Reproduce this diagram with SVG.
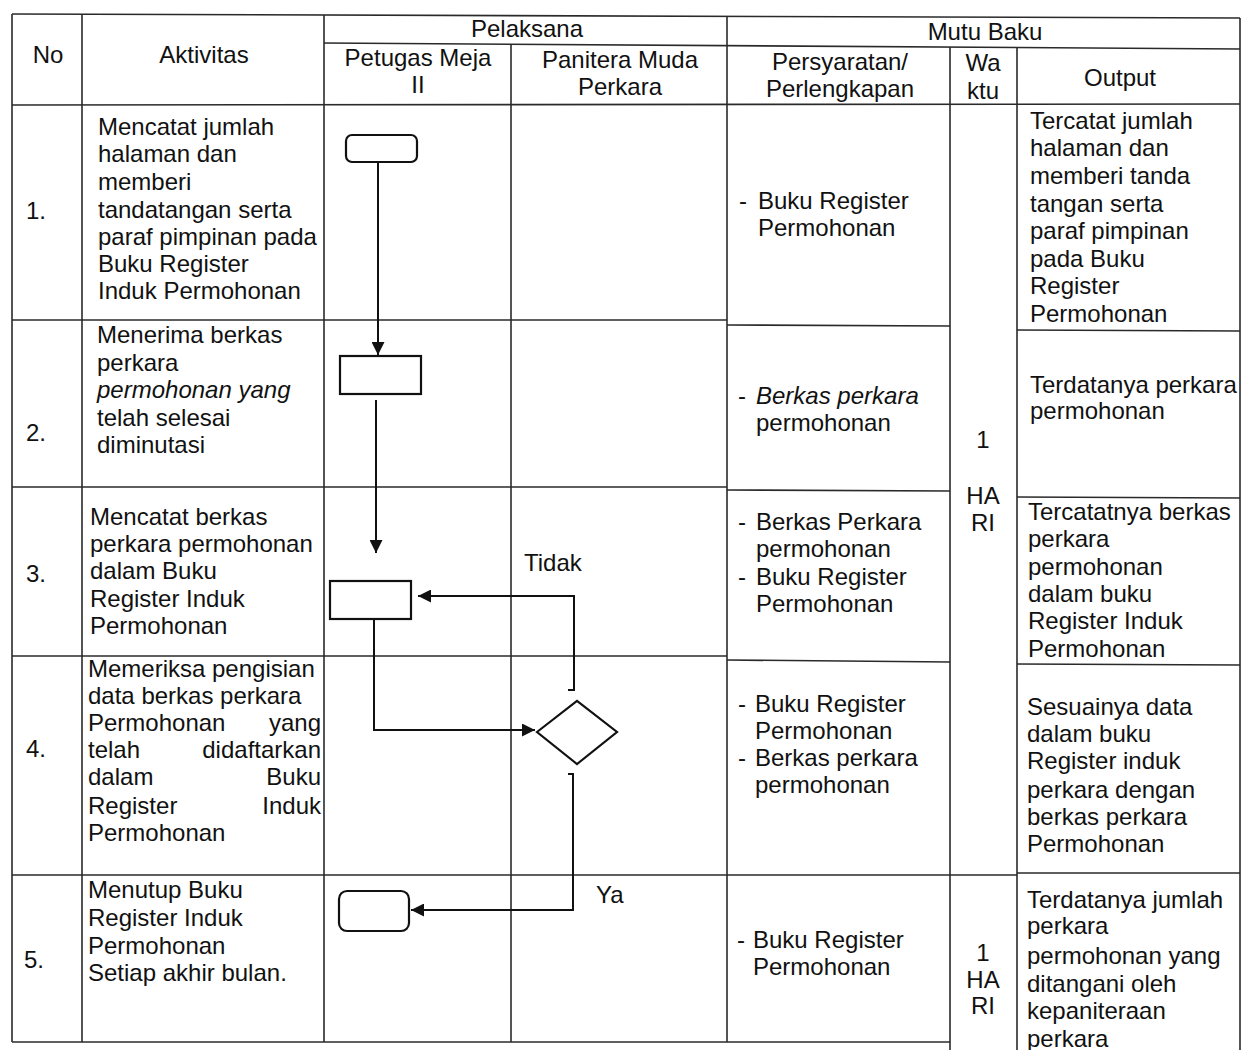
<svg xmlns="http://www.w3.org/2000/svg" width="1255" height="1050" viewBox="0 0 1255 1050">
<style>
text{font-family:"Liberation Sans",Arial,sans-serif;font-size:24px;fill:#111}
.c{text-anchor:middle}
.e{text-anchor:end}
.i{font-style:italic}
.grid line{stroke:#2a2a2a;stroke-width:1.6}
.shape{fill:#fff;stroke:#111;stroke-width:2.2}
.conn path{fill:none;stroke:#111;stroke-width:2}
</style>
<defs>
<marker id="ah" markerUnits="userSpaceOnUse" viewBox="0 0 12 12" refX="12" refY="6" markerWidth="13" markerHeight="13" orient="auto">
<path d="M0,0 L12,6 L0,12 z" fill="#111"/>
</marker>
</defs>
<rect width="1255" height="1050" fill="#fff"/>
<g class="grid">
<line x1="12" y1="14" x2="1240" y2="18"/>
<line x1="324" y1="43" x2="1240" y2="49"/>
<line x1="12" y1="105" x2="1240" y2="104"/>
<line x1="12" y1="14" x2="12" y2="1042"/>
<line x1="82" y1="14" x2="82" y2="1042"/>
<line x1="324" y1="15" x2="324" y2="1042"/>
<line x1="511" y1="44" x2="511" y2="1042"/>
<line x1="727" y1="16" x2="727" y2="1042"/>
<line x1="950" y1="47" x2="950" y2="1050"/>
<line x1="1017" y1="48" x2="1017" y2="1050"/>
<line x1="1240" y1="18" x2="1240" y2="1050"/>
<line x1="12" y1="320" x2="727" y2="320"/>
<line x1="12" y1="487" x2="727" y2="487"/>
<line x1="12" y1="656" x2="727" y2="656"/>
<line x1="12" y1="875" x2="727" y2="875"/>
<line x1="727" y1="325" x2="950" y2="326"/>
<line x1="727" y1="490" x2="950" y2="491"/>
<line x1="727" y1="660" x2="950" y2="662"/>
<line x1="727" y1="875" x2="1017" y2="875"/>
<line x1="1017" y1="330" x2="1240" y2="331"/>
<line x1="1017" y1="497" x2="1240" y2="498"/>
<line x1="1017" y1="664" x2="1240" y2="665"/>
<line x1="1017" y1="873" x2="1240" y2="873"/>
<line x1="12" y1="1042" x2="950" y2="1042"/>
</g>
<g id="header">
<text class="c" x="48" y="63">No</text>
<text class="c" x="204" y="63">Aktivitas</text>
<text class="c" x="527" y="37">Pelaksana</text>
<text class="c" x="418" y="66">Petugas Meja</text>
<text class="c" x="418" y="93">II</text>
<text class="c" x="620" y="68">Panitera Muda</text>
<text class="c" x="620" y="95">Perkara</text>
<text class="c" x="985" y="40">Mutu Baku</text>
<text class="c" x="840" y="70">Persyaratan/</text>
<text class="c" x="840" y="97">Perlengkapan</text>
<text class="c" x="983" y="71">Wa</text>
<text class="c" x="983" y="99">ktu</text>
<text class="c" x="1120" y="86">Output</text>
</g>
<g id="row1">
<text x="26" y="219">1.</text>
<text x="98" y="135">Mencatat jumlah</text>
<text x="98" y="162">halaman dan</text>
<text x="98" y="190">memberi</text>
<text x="98" y="218">tandatangan serta</text>
<text x="98" y="245">paraf pimpinan pada</text>
<text x="98" y="272">Buku Register</text>
<text x="98" y="299">Induk Permohonan</text>
<text x="739" y="209">-</text>
<text x="758" y="209">Buku Register</text>
<text x="758" y="236">Permohonan</text>
<text x="1030" y="129">Tercatat jumlah</text>
<text x="1030" y="156">halaman dan</text>
<text x="1030" y="184">memberi tanda</text>
<text x="1030" y="212">tangan serta</text>
<text x="1030" y="239">paraf pimpinan</text>
<text x="1030" y="267">pada Buku</text>
<text x="1030" y="294">Register</text>
<text x="1030" y="322">Permohonan</text>
</g>
<g id="row2">
<text x="26" y="441">2.</text>
<text x="97" y="343">Menerima berkas</text>
<text x="97" y="371">perkara</text>
<text x="97" y="398" class="i">permohonan yang</text>
<text x="97" y="426">telah selesai</text>
<text x="97" y="453">diminutasi</text>
<text x="738" y="404">-</text>
<text x="756" y="404" class="i">Berkas perkara</text>
<text x="756" y="431">permohonan</text>
<text x="1030" y="393">Terdatanya perkara</text>
<text x="1030" y="419">permohonan</text>
</g>
<g id="row3">
<text x="26" y="582">3.</text>
<text x="90" y="525">Mencatat berkas</text>
<text x="90" y="552">perkara permohonan</text>
<text x="90" y="579">dalam Buku</text>
<text x="90" y="607">Register Induk</text>
<text x="90" y="634">Permohonan</text>
<text x="738" y="530">-</text>
<text x="756" y="530">Berkas Perkara</text>
<text x="756" y="557">permohonan</text>
<text x="738" y="585">-</text>
<text x="756" y="585">Buku Register</text>
<text x="756" y="612">Permohonan</text>
<text x="1028" y="520">Tercatatnya berkas</text>
<text x="1028" y="547">perkara</text>
<text x="1028" y="575">permohonan</text>
<text x="1028" y="602">dalam buku</text>
<text x="1028" y="629">Register Induk</text>
<text x="1028" y="657">Permohonan</text>
</g>
<g id="row4">
<text x="26" y="757">4.</text>
<text x="88" y="677">Memeriksa pengisian</text>
<text x="88" y="704">data berkas perkara</text>
<text x="88" y="731">Permohonan</text>
<text class="e" x="321" y="731">yang</text>
<text x="88" y="758">telah</text>
<text class="e" x="321" y="758">didaftarkan</text>
<text x="88" y="785">dalam</text>
<text class="e" x="321" y="785">Buku</text>
<text x="88" y="814">Register</text>
<text class="e" x="321" y="814">Induk</text>
<text x="88" y="841">Permohonan</text>
<text x="738" y="712">-</text>
<text x="755" y="712">Buku Register</text>
<text x="755" y="739">Permohonan</text>
<text x="738" y="766">-</text>
<text x="755" y="766">Berkas perkara</text>
<text x="755" y="793">permohonan</text>
<text x="1027" y="715">Sesuainya data</text>
<text x="1027" y="742">dalam buku</text>
<text x="1027" y="769">Register induk</text>
<text x="1027" y="798">perkara dengan</text>
<text x="1027" y="825">berkas perkara</text>
<text x="1027" y="852">Permohonan</text>
</g>
<g id="row5">
<text x="24" y="968">5.</text>
<text x="88" y="898">Menutup Buku</text>
<text x="88" y="926">Register Induk</text>
<text x="88" y="954">Permohonan</text>
<text x="88" y="981">Setiap akhir bulan.</text>
<text x="737" y="948">-</text>
<text x="753" y="948">Buku Register</text>
<text x="753" y="975">Permohonan</text>
<text x="1027" y="908">Terdatanya jumlah</text>
<text x="1027" y="934">perkara</text>
<text x="1027" y="964">permohonan yang</text>
<text x="1027" y="992">ditangani oleh</text>
<text x="1027" y="1019">kepaniteraan</text>
<text x="1027" y="1047">perkara</text>
</g>
<g id="waktu">
<text class="c" x="983" y="448">1</text>
<text class="c" x="983" y="504">HA</text>
<text class="c" x="983" y="531">RI</text>
<text class="c" x="983" y="961">1</text>
<text class="c" x="983" y="988">HA</text>
<text class="c" x="983" y="1014">RI</text>
</g>
<g id="node-start"><rect class="shape" x="346" y="135" width="71" height="27" rx="6"/></g>
<g id="node-terima"><rect class="shape" x="340" y="356" width="81" height="38"/></g>
<g id="node-catat"><rect class="shape" x="330" y="581" width="81" height="38"/></g>
<g id="node-periksa"><polygon class="shape" points="537,732 577,701 617,732 577,764"/></g>
<g id="node-end"><rect class="shape" x="339" y="891" width="70" height="40" rx="8"/></g>
<g class="conn" id="connectors">
<path d="M378,162 L378,355" marker-end="url(#ah)"/>
<path d="M376,400 L376,553" marker-end="url(#ah)"/>
<path d="M374,619 L374,730 L535,730" marker-end="url(#ah)"/>
<path d="M568,690 L574,690 L574,596 L418,596" marker-end="url(#ah)"/>
<path d="M568,774 L573,774 L573,910 L411,910" marker-end="url(#ah)"/>
</g>
<g id="labels">
<text x="524" y="571">Tidak</text>
<text x="596" y="903">Ya</text>
</g>
</svg>
